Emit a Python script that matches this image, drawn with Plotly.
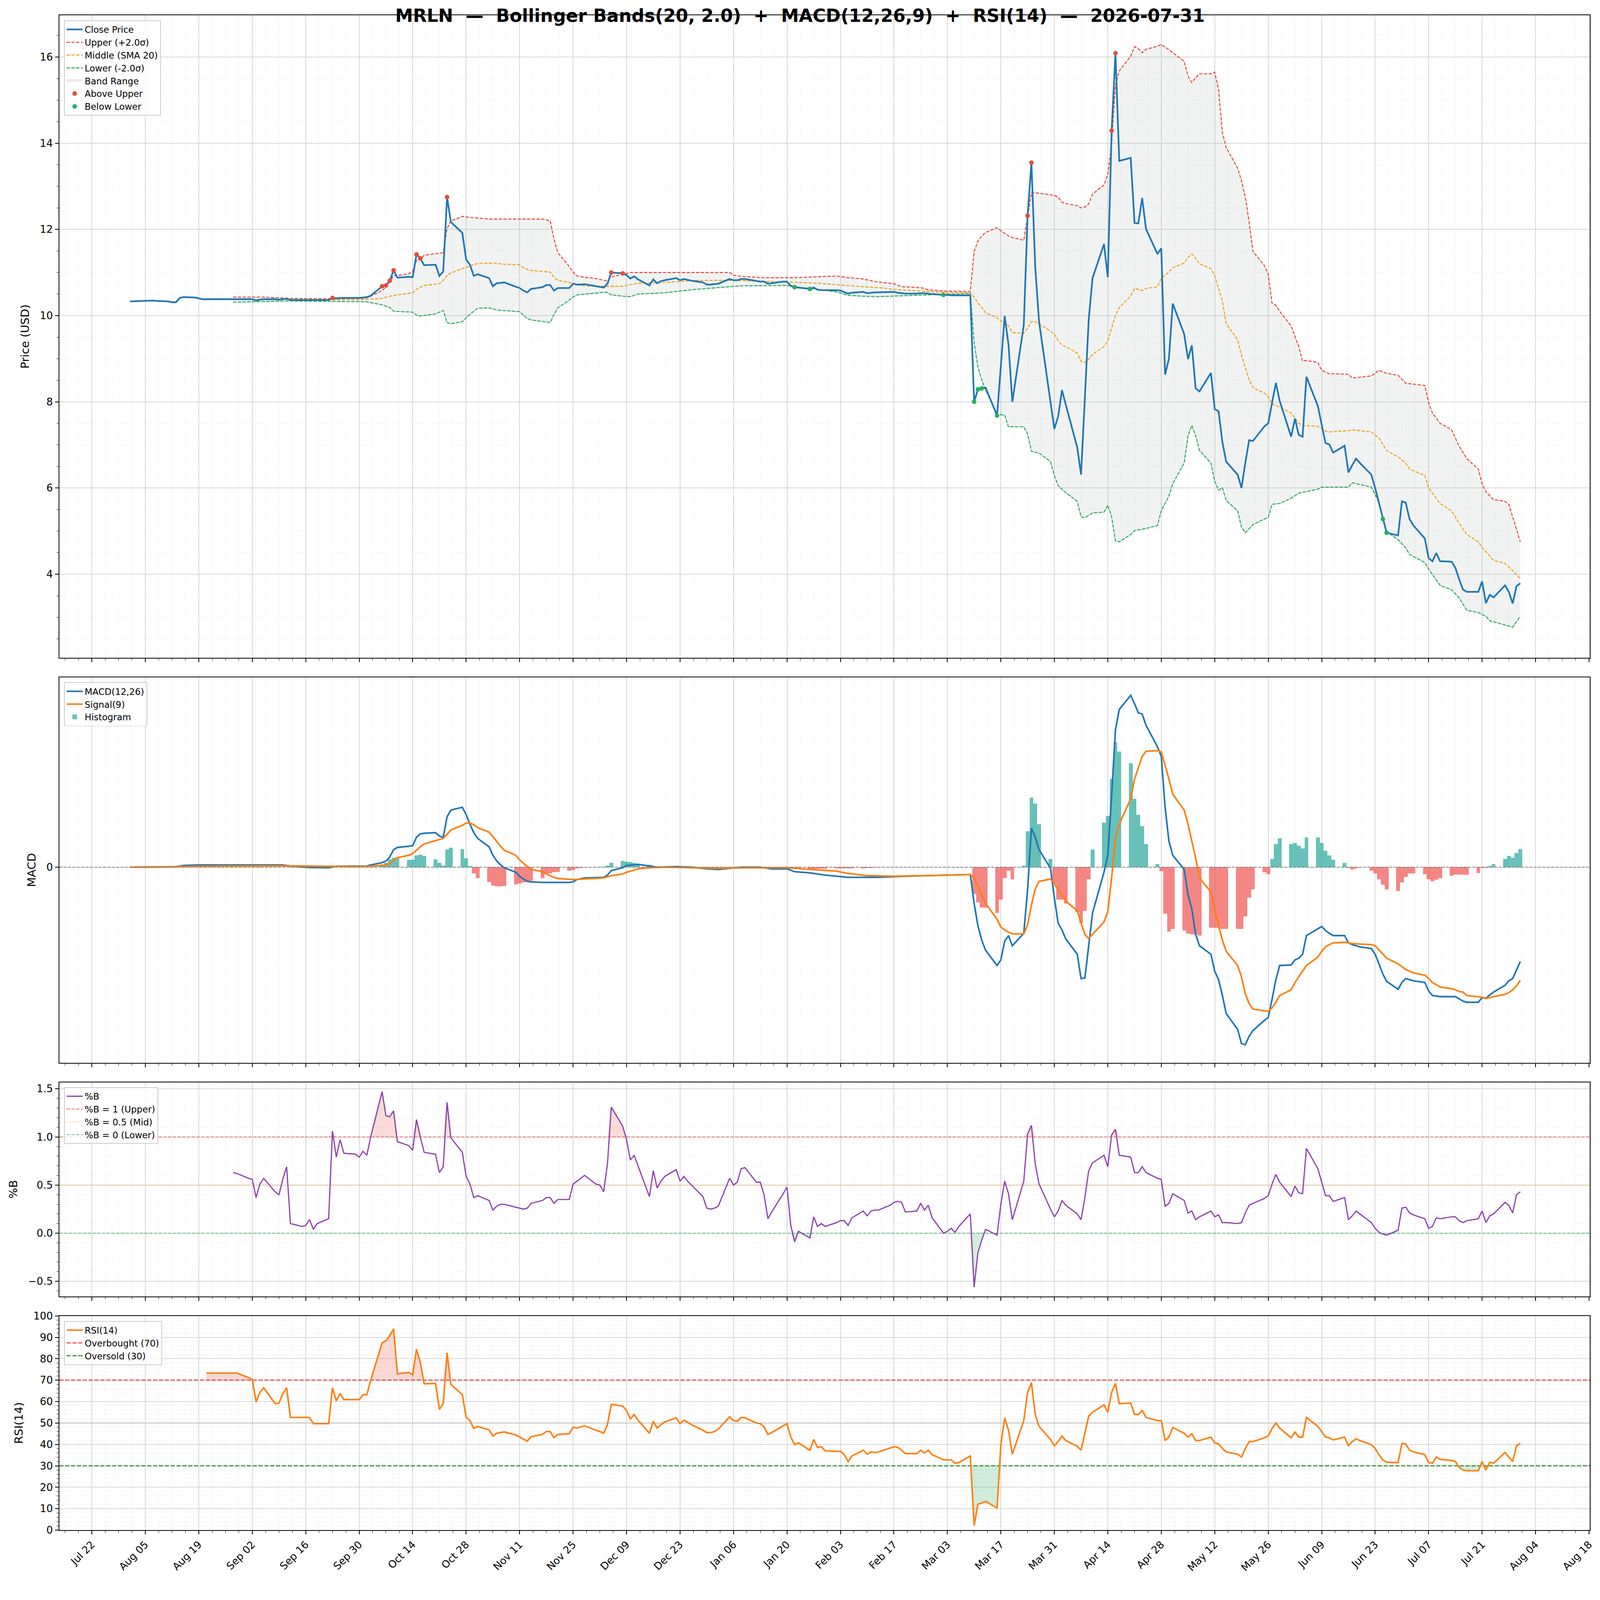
import numpy as np
import pandas as pd
import plotly.graph_objects as go
from plotly.subplots import make_subplots

FONT = "DejaVu Sans"
DAY = 86400000

# the page is shown in a 4096 css-px wide viewport, picture is 4378 px wide
S = 4096 / 4378
W, H = 4096, 4043


def px(v):
    return v * S


def dash(a, b):
    return f"{px(a):.1f}px,{px(b):.1f}px"


title = "MRLN  \u2014  Bollinger Bands(20, 2.0)  +  MACD(12,26,9)  +  RSI(14)  \u2014  2026-07-31"

# daily closes, business days from Fri 2025-08-01, one row per week (Mon..Fri)
close = [
    10.33,
    10.34, 10.35, 10.35, 10.35, 10.34,   # Aug 04
    10.33, 10.31, 10.31, 10.41, 10.43,   # Aug 11
    10.42, 10.40, 10.38, 10.38, 10.38,   # Aug 18
    10.38, 10.38, 10.38, 10.38, 10.38,   # Aug 25
    10.38, 10.38, 10.35, 10.37, 10.38,   # Sep 01
    10.38, 10.37, 10.38, 10.39, 10.36,   # Sep 08
    10.36, 10.36, 10.36, 10.36, 10.36,   # Sep 15
    10.36, 10.41, 10.40, 10.41, 10.41,   # Sep 22
    10.41, 10.41, 10.42, 10.43, 10.46,   # Sep 29
    10.68, 10.70, 10.81, 11.05, 10.88,   # Oct 06
    10.90, 10.89, 11.42, 11.33, 11.17,   # Oct 13
    11.18, 10.92, 11.02, 12.75, 12.17,   # Oct 20
    11.92, 11.30, 11.18, 10.92, 10.96,   # Oct 27
    10.87, 10.68, 10.75, 10.76, 10.77,   # Nov 03
    10.67, 10.64, 10.58, 10.54, 10.62,   # Nov 10
    10.66, 10.71, 10.71, 10.58, 10.64,   # Nov 17
    10.64, 10.74, 10.72, 10.72, 10.73,   # Nov 24
    10.68, 10.66, 10.65, 10.74, 11.00,   # Dec 01
    10.98, 10.94, 10.86, 10.91, 10.84,   # Dec 08
    10.70, 10.84, 10.75, 10.80, 10.82,   # Dec 15
    10.87, 10.82, 10.85, 10.83, 10.81,   # Dec 22
    10.77, 10.72, 10.72, 10.73, 10.74,   # Dec 29
    10.85, 10.82, 10.82, 10.85, 10.85,   # Jan 05
    10.80, 10.79, 10.79, 10.74, 10.75,   # Jan 12
    10.79, 10.79, 10.69, 10.66, 10.65,   # Jan 19
    10.62, 10.65, 10.60, 10.59, 10.59,   # Jan 26
    10.59, 10.58, 10.55, 10.51, 10.53,   # Feb 02
    10.55, 10.52, 10.53, 10.54, 10.54,   # Feb 09
    10.55, 10.55, 10.53, 10.52, 10.51,   # Feb 16
    10.51, 10.52, 10.52, 10.51, 10.50,   # Feb 23
    10.48, 10.48, 10.47, 10.47, 10.47,   # Mar 02
    10.47, 8.00, 8.29, 8.31, 8.33,       # Mar 09
    7.68, 8.85, 9.99, 9.33, 8.00,        # Mar 16
    9.78, 12.32, 13.55, 11.12, 9.86,     # Mar 23
    8.00, 7.37, 7.66, 8.27, 7.93,        # Mar 30
    6.94, 6.31, 8.02, 9.90, 10.87,       # Apr 06
    11.66, 10.89, 14.29, 16.09, 13.59,   # Apr 13
    13.66, 12.15, 12.14, 12.73, 12.01,   # Apr 20
    11.43, 11.56, 8.63, 9.00, 10.28,     # Apr 27
    9.57, 8.99, 9.31, 8.31, 8.24,        # May 04
    8.67, 7.83, 7.78, 7.06, 6.61,        # May 11
    6.31, 6.00, 6.58, 7.11, 7.09,        # May 18
    7.43, 7.50, 7.97, 8.44, 8.02,        # May 25
    7.19, 7.61, 7.23, 7.19, 8.58,        # Jun 01
    7.90, 7.45, 7.04, 7.01, 6.82,        # Jun 08
    6.98, 6.36, 6.53, 6.68, 6.58,        # Jun 15
    6.31, 6.00, 5.64, 5.28, 4.96,        # Jun 22
    4.90, 5.69, 5.66, 5.28, 5.13,        # Jun 29
    4.83, 4.37, 4.30, 4.49, 4.30,        # Jul 06
    4.29, 4.15, 3.88, 3.64, 3.59,        # Jul 13
    3.59, 3.83, 3.33, 3.52, 3.46,        # Jul 20
    3.74, 3.59, 3.32, 3.72, 3.79,        # Jul 27
]

upper_band = [
    ("2025-08-28", 10.43), ("2025-09-05", 10.43), ("2025-09-12", 10.40), ("2025-09-22", 10.39),
    ("2025-09-30", 10.40), ("2025-10-02", 10.41), ("2025-10-03", 10.45), ("2025-10-06", 10.58),
    ("2025-10-07", 10.66), ("2025-10-08", 10.78), ("2025-10-09", 10.93), ("2025-10-10", 10.93),
    ("2025-10-13", 10.97), ("2025-10-14", 11.03), ("2025-10-15", 11.28), ("2025-10-16", 11.30),
    ("2025-10-17", 11.40), ("2025-10-20", 11.44), ("2025-10-22", 11.46), ("2025-10-23", 12.02),
    ("2025-10-24", 12.20), ("2025-10-27", 12.30), ("2025-10-29", 12.28), ("2025-11-03", 12.24),
    ("2025-11-17", 12.24), ("2025-11-19", 12.20), ("2025-11-20", 11.78), ("2025-11-21", 11.46),
    ("2025-11-24", 11.14), ("2025-11-25", 11.01), ("2025-11-26", 10.92), ("2025-11-28", 10.89),
    ("2025-12-01", 10.86), ("2025-12-03", 10.82), ("2025-12-04", 10.81), ("2025-12-05", 10.90),
    ("2025-12-08", 10.95), ("2025-12-10", 11.00), ("2026-01-05", 11.00), ("2026-01-06", 10.94),
    ("2026-01-08", 10.91), ("2026-01-14", 10.88), ("2026-01-22", 10.88), ("2026-01-28", 10.90),
    ("2026-02-02", 10.92), ("2026-02-05", 10.88), ("2026-02-09", 10.85), ("2026-02-12", 10.79),
    ("2026-02-17", 10.74), ("2026-02-19", 10.67), ("2026-02-24", 10.65), ("2026-02-26", 10.60),
    ("2026-03-02", 10.57), ("2026-03-09", 10.56), ("2026-03-10", 11.49), ("2026-03-11", 11.73),
    ("2026-03-12", 11.85), ("2026-03-13", 11.93), ("2026-03-16", 12.04), ("2026-03-17", 11.97),
    ("2026-03-19", 11.85), ("2026-03-20", 11.81), ("2026-03-23", 11.75), ("2026-03-24", 12.30),
    ("2026-03-25", 12.86), ("2026-03-27", 12.84), ("2026-03-31", 12.79), ("2026-04-01", 12.75),
    ("2026-04-02", 12.63), ("2026-04-03", 12.60), ("2026-04-06", 12.55), ("2026-04-07", 12.50),
    ("2026-04-08", 12.52), ("2026-04-09", 12.59), ("2026-04-10", 12.82), ("2026-04-13", 13.03),
    ("2026-04-14", 13.28), ("2026-04-15", 14.00), ("2026-04-16", 15.35), ("2026-04-17", 15.68),
    ("2026-04-20", 16.02), ("2026-04-21", 16.24), ("2026-04-22", 16.19), ("2026-04-23", 16.10),
    ("2026-04-24", 16.18), ("2026-04-27", 16.25), ("2026-04-28", 16.29), ("2026-04-29", 16.23),
    ("2026-04-30", 16.17), ("2026-05-04", 15.90), ("2026-05-05", 15.56), ("2026-05-06", 15.41),
    ("2026-05-07", 15.52), ("2026-05-08", 15.61), ("2026-05-11", 15.61), ("2026-05-12", 15.65),
    ("2026-05-13", 15.25), ("2026-05-14", 14.24), ("2026-05-15", 13.90), ("2026-05-18", 13.42),
    ("2026-05-19", 13.13), ("2026-05-20", 12.75), ("2026-05-21", 12.17), ("2026-05-22", 11.49),
    ("2026-05-25", 11.16), ("2026-05-26", 10.96), ("2026-05-27", 10.29), ("2026-05-28", 10.24),
    ("2026-05-29", 10.10), ("2026-06-01", 9.76), ("2026-06-02", 9.52), ("2026-06-03", 9.28),
    ("2026-06-04", 8.94), ("2026-06-05", 8.96), ("2026-06-08", 8.91), ("2026-06-09", 8.73),
    ("2026-06-11", 8.65), ("2026-06-16", 8.64), ("2026-06-17", 8.55), ("2026-06-22", 8.60),
    ("2026-06-24", 8.73), ("2026-06-26", 8.66), ("2026-06-29", 8.62), ("2026-07-01", 8.43),
    ("2026-07-03", 8.41), ("2026-07-06", 8.38), ("2026-07-07", 7.98), ("2026-07-08", 7.74),
    ("2026-07-10", 7.50), ("2026-07-13", 7.35), ("2026-07-15", 6.97), ("2026-07-17", 6.68),
    ("2026-07-20", 6.44), ("2026-07-21", 6.10), ("2026-07-22", 5.91), ("2026-07-24", 5.73),
    ("2026-07-27", 5.69), ("2026-07-28", 5.62), ("2026-07-29", 5.33), ("2026-07-30", 5.04),
    ("2026-07-31", 4.75),
]

middle_band = [
    ("2025-08-28", 10.38), ("2025-09-30", 10.37), ("2025-10-03", 10.38), ("2025-10-06", 10.40),
    ("2025-10-08", 10.45), ("2025-10-10", 10.48), ("2025-10-14", 10.53), ("2025-10-15", 10.61),
    ("2025-10-17", 10.70), ("2025-10-21", 10.74), ("2025-10-22", 10.82), ("2025-10-23", 10.93),
    ("2025-10-24", 10.99), ("2025-10-27", 11.09), ("2025-10-31", 11.21), ("2025-11-03", 11.22),
    ("2025-11-05", 11.21), ("2025-11-07", 11.19), ("2025-11-11", 11.18), ("2025-11-12", 11.11),
    ("2025-11-13", 11.07), ("2025-11-14", 11.05), ("2025-11-19", 11.01), ("2025-11-20", 10.89),
    ("2025-11-21", 10.82), ("2025-11-24", 10.77), ("2025-11-25", 10.74), ("2025-11-28", 10.69),
    ("2025-12-03", 10.68), ("2025-12-08", 10.68), ("2025-12-10", 10.72), ("2025-12-12", 10.75),
    ("2025-12-19", 10.77), ("2025-12-26", 10.81), ("2026-01-02", 10.82), ("2026-01-09", 10.81),
    ("2026-01-14", 10.79), ("2026-01-23", 10.77), ("2026-01-28", 10.75), ("2026-02-03", 10.71),
    ("2026-02-09", 10.67), ("2026-02-13", 10.65), ("2026-02-18", 10.60), ("2026-02-24", 10.57),
    ("2026-03-02", 10.54), ("2026-03-09", 10.53), ("2026-03-10", 10.43), ("2026-03-11", 10.29),
    ("2026-03-12", 10.19), ("2026-03-13", 10.07), ("2026-03-16", 9.95), ("2026-03-17", 9.87),
    ("2026-03-18", 9.86), ("2026-03-19", 9.76), ("2026-03-20", 9.61), ("2026-03-23", 9.59),
    ("2026-03-24", 9.71), ("2026-03-25", 9.86), ("2026-03-26", 9.86), ("2026-03-27", 9.81),
    ("2026-03-30", 9.64), ("2026-03-31", 9.57), ("2026-04-01", 9.42), ("2026-04-02", 9.31),
    ("2026-04-03", 9.28), ("2026-04-06", 9.13), ("2026-04-07", 8.94), ("2026-04-08", 8.91),
    ("2026-04-09", 8.99), ("2026-04-10", 9.10), ("2026-04-13", 9.28), ("2026-04-14", 9.42),
    ("2026-04-15", 9.71), ("2026-04-16", 10.00), ("2026-04-17", 10.19), ("2026-04-20", 10.45),
    ("2026-04-21", 10.63), ("2026-04-22", 10.61), ("2026-04-23", 10.58), ("2026-04-24", 10.63),
    ("2026-04-27", 10.67), ("2026-04-28", 10.87), ("2026-04-29", 10.93), ("2026-04-30", 11.01),
    ("2026-05-01", 11.11), ("2026-05-04", 11.22), ("2026-05-05", 11.35), ("2026-05-06", 11.43),
    ("2026-05-07", 11.33), ("2026-05-08", 11.20), ("2026-05-11", 11.09), ("2026-05-12", 10.92),
    ("2026-05-13", 10.63), ("2026-05-14", 10.34), ("2026-05-15", 9.81), ("2026-05-18", 9.44),
    ("2026-05-19", 9.08), ("2026-05-20", 8.80), ("2026-05-21", 8.51), ("2026-05-22", 8.33),
    ("2026-05-25", 8.20), ("2026-05-26", 8.12), ("2026-05-27", 7.95), ("2026-05-29", 7.88),
    ("2026-06-01", 7.74), ("2026-06-03", 7.50), ("2026-06-04", 7.45), ("2026-06-08", 7.43),
    ("2026-06-10", 7.32), ("2026-06-11", 7.30), ("2026-06-16", 7.33), ("2026-06-17", 7.35),
    ("2026-06-22", 7.30), ("2026-06-24", 7.16), ("2026-06-26", 6.87), ("2026-06-29", 6.72),
    ("2026-07-01", 6.58), ("2026-07-02", 6.44), ("2026-07-06", 6.29), ("2026-07-07", 6.00),
    ("2026-07-10", 5.64), ("2026-07-13", 5.47), ("2026-07-15", 5.18), ("2026-07-17", 4.92),
    ("2026-07-20", 4.75), ("2026-07-21", 4.62), ("2026-07-24", 4.32), ("2026-07-27", 4.25),
    ("2026-07-29", 4.08), ("2026-07-31", 3.90),
]

lower_band = [
    ("2025-08-28", 10.31), ("2025-09-12", 10.34), ("2025-10-02", 10.32), ("2025-10-03", 10.30),
    ("2025-10-06", 10.25), ("2025-10-08", 10.19), ("2025-10-09", 10.10), ("2025-10-14", 10.08),
    ("2025-10-15", 10.01), ("2025-10-16", 9.99), ("2025-10-20", 10.04), ("2025-10-22", 10.12),
    ("2025-10-23", 9.84), ("2025-10-24", 9.81), ("2025-10-27", 9.86), ("2025-10-29", 10.03),
    ("2025-10-31", 10.17), ("2025-11-03", 10.18), ("2025-11-05", 10.13), ("2025-11-11", 10.09),
    ("2025-11-13", 9.93), ("2025-11-14", 9.90), ("2025-11-19", 9.84), ("2025-11-20", 10.02),
    ("2025-11-21", 10.18), ("2025-11-24", 10.36), ("2025-11-25", 10.43), ("2025-11-26", 10.48),
    ("2025-12-03", 10.54), ("2025-12-04", 10.54), ("2025-12-05", 10.48), ("2025-12-08", 10.45),
    ("2025-12-10", 10.44), ("2025-12-12", 10.50), ("2025-12-19", 10.53), ("2025-12-26", 10.60),
    ("2026-01-02", 10.65), ("2026-01-08", 10.69), ("2026-01-20", 10.70), ("2026-01-22", 10.67),
    ("2026-01-26", 10.63), ("2026-02-02", 10.55), ("2026-02-05", 10.47), ("2026-02-09", 10.45),
    ("2026-02-13", 10.44), ("2026-02-19", 10.46), ("2026-02-26", 10.48), ("2026-03-02", 10.49),
    ("2026-03-04", 10.50), ("2026-03-09", 10.51), ("2026-03-10", 9.37), ("2026-03-11", 8.80),
    ("2026-03-12", 8.51), ("2026-03-13", 8.27), ("2026-03-16", 7.71), ("2026-03-18", 7.69),
    ("2026-03-19", 7.42), ("2026-03-23", 7.42), ("2026-03-24", 7.25), ("2026-03-25", 6.85),
    ("2026-03-27", 6.81), ("2026-03-30", 6.61), ("2026-03-31", 6.29), ("2026-04-01", 6.05),
    ("2026-04-02", 5.97), ("2026-04-03", 5.89), ("2026-04-06", 5.69), ("2026-04-07", 5.33),
    ("2026-04-08", 5.31), ("2026-04-10", 5.42), ("2026-04-13", 5.44), ("2026-04-14", 5.60),
    ("2026-04-15", 5.33), ("2026-04-16", 4.77), ("2026-04-17", 4.75), ("2026-04-20", 4.92),
    ("2026-04-21", 5.01), ("2026-04-24", 5.06), ("2026-04-27", 5.13), ("2026-04-28", 5.47),
    ("2026-04-30", 5.81), ("2026-05-01", 6.10), ("2026-05-04", 6.58), ("2026-05-05", 7.21),
    ("2026-05-06", 7.45), ("2026-05-07", 7.21), ("2026-05-08", 6.87), ("2026-05-11", 6.58),
    ("2026-05-12", 6.15), ("2026-05-13", 5.95), ("2026-05-14", 6.00), ("2026-05-15", 5.71),
    ("2026-05-18", 5.47), ("2026-05-19", 5.09), ("2026-05-20", 4.96), ("2026-05-22", 5.15),
    ("2026-05-25", 5.28), ("2026-05-26", 5.31), ("2026-05-27", 5.62), ("2026-05-29", 5.64),
    ("2026-06-01", 5.76), ("2026-06-03", 5.88), ("2026-06-08", 5.97), ("2026-06-09", 6.02),
    ("2026-06-16", 6.02), ("2026-06-17", 6.12), ("2026-06-22", 6.02), ("2026-06-24", 5.66),
    ("2026-06-25", 5.32), ("2026-06-26", 4.99), ("2026-06-29", 4.80), ("2026-07-01", 4.61),
    ("2026-07-02", 4.46), ("2026-07-06", 4.27), ("2026-07-07", 4.12), ("2026-07-10", 3.74),
    ("2026-07-13", 3.64), ("2026-07-15", 3.45), ("2026-07-17", 3.16), ("2026-07-20", 3.11),
    ("2026-07-22", 3.02), ("2026-07-23", 2.92), ("2026-07-27", 2.82), ("2026-07-29", 2.77),
    ("2026-07-31", 3.02),
]

above_upper_days = ["2025-09-23", "2025-10-06", "2025-10-07", "2025-10-08", "2025-10-09",
                    "2025-10-15", "2025-10-16", "2025-10-23", "2025-12-05", "2025-12-08",
                    "2026-03-24", "2026-03-25", "2026-04-15", "2026-04-16"]
below_lower_days = ["2026-01-22", "2026-01-26", "2026-03-02", "2026-03-10", "2026-03-11",
                    "2026-03-12", "2026-03-16", "2026-06-25", "2026-06-26"]

macd_line = [
    ("2025-08-01", 0.0), ("2025-08-13", 0.003), ("2025-08-15", 0.015), ("2025-08-19", 0.02),
    ("2025-09-10", 0.02), ("2025-09-12", 0.01), ("2025-09-17", -0.003), ("2025-09-22", -0.005),
    ("2025-09-24", 0.008), ("2025-10-02", 0.01), ("2025-10-03", 0.02), ("2025-10-06", 0.04),
    ("2025-10-07", 0.055), ("2025-10-08", 0.09), ("2025-10-09", 0.155), ("2025-10-10", 0.175),
    ("2025-10-13", 0.185), ("2025-10-14", 0.19), ("2025-10-15", 0.265), ("2025-10-16", 0.295),
    ("2025-10-17", 0.30), ("2025-10-20", 0.305), ("2025-10-21", 0.275), ("2025-10-22", 0.265),
    ("2025-10-23", 0.445), ("2025-10-24", 0.505), ("2025-10-27", 0.53), ("2025-10-28", 0.465),
    ("2025-10-29", 0.38), ("2025-10-30", 0.305), ("2025-10-31", 0.255), ("2025-11-03", 0.18),
    ("2025-11-04", 0.105), ("2025-11-05", 0.055), ("2025-11-06", 0.02), ("2025-11-07", -0.005),
    ("2025-11-10", -0.045), ("2025-11-11", -0.08), ("2025-11-12", -0.105), ("2025-11-13", -0.125),
    ("2025-11-14", -0.13), ("2025-11-17", -0.135), ("2025-11-24", -0.135), ("2025-11-25", -0.13),
    ("2025-11-26", -0.11), ("2025-11-28", -0.095), ("2025-12-03", -0.09), ("2025-12-04", -0.07),
    ("2025-12-05", -0.03), ("2025-12-08", -0.005), ("2025-12-09", 0.015), ("2025-12-12", 0.025),
    ("2025-12-15", 0.01), ("2025-12-17", 0.0), ("2025-12-22", 0.005), ("2025-12-26", 0.0),
    ("2025-12-30", -0.015), ("2026-01-02", -0.02), ("2026-01-05", -0.01), ("2026-01-08", 0.0),
    ("2026-01-13", 0.0), ("2026-01-16", -0.015), ("2026-01-20", -0.015), ("2026-01-22", -0.04),
    ("2026-01-26", -0.05), ("2026-01-30", -0.07), ("2026-02-05", -0.09), ("2026-02-13", -0.09),
    ("2026-02-20", -0.08), ("2026-02-27", -0.075), ("2026-03-09", -0.065), ("2026-03-10", -0.32),
    ("2026-03-11", -0.52), ("2026-03-12", -0.645), ("2026-03-13", -0.735), ("2026-03-16", -0.87),
    ("2026-03-17", -0.82), ("2026-03-18", -0.655), ("2026-03-19", -0.605), ("2026-03-20", -0.695),
    ("2026-03-23", -0.585), ("2026-03-24", -0.20), ("2026-03-25", 0.345), ("2026-03-26", 0.265),
    ("2026-03-27", 0.155), ("2026-03-30", -0.01), ("2026-03-31", -0.27), ("2026-04-01", -0.495),
    ("2026-04-02", -0.555), ("2026-04-03", -0.635), ("2026-04-06", -0.77), ("2026-04-07", -0.985),
    ("2026-04-08", -0.98), ("2026-04-09", -0.695), ("2026-04-10", -0.405), ("2026-04-13", -0.045),
    ("2026-04-14", 0.105), ("2026-04-15", 0.63), ("2026-04-16", 1.215), ("2026-04-17", 1.395),
    ("2026-04-20", 1.52), ("2026-04-21", 1.445), ("2026-04-22", 1.365), ("2026-04-23", 1.355),
    ("2026-04-24", 1.255), ("2026-04-27", 1.065), ("2026-04-28", 0.98), ("2026-04-29", 0.53),
    ("2026-04-30", 0.23), ("2026-05-01", 0.105), ("2026-05-04", -0.02), ("2026-05-05", -0.245),
    ("2026-05-06", -0.37), ("2026-05-07", -0.595), ("2026-05-08", -0.695), ("2026-05-11", -0.77),
    ("2026-05-12", -0.92), ("2026-05-13", -0.995), ("2026-05-14", -1.135), ("2026-05-15", -1.295),
    ("2026-05-18", -1.435), ("2026-05-19", -1.56), ("2026-05-20", -1.57), ("2026-05-21", -1.495),
    ("2026-05-22", -1.445), ("2026-05-25", -1.355), ("2026-05-26", -1.33), ("2026-05-27", -1.17),
    ("2026-05-28", -0.995), ("2026-05-29", -0.87), ("2026-06-01", -0.865), ("2026-06-02", -0.82),
    ("2026-06-03", -0.805), ("2026-06-04", -0.77), ("2026-06-05", -0.605), ("2026-06-08", -0.545),
    ("2026-06-09", -0.525), ("2026-06-10", -0.56), ("2026-06-11", -0.585), ("2026-06-12", -0.605),
    ("2026-06-15", -0.605), ("2026-06-16", -0.67), ("2026-06-17", -0.685), ("2026-06-18", -0.695),
    ("2026-06-19", -0.705), ("2026-06-22", -0.72), ("2026-06-23", -0.77), ("2026-06-24", -0.855),
    ("2026-06-25", -0.945), ("2026-06-26", -1.01), ("2026-06-29", -1.08), ("2026-06-30", -1.02),
    ("2026-07-01", -0.985), ("2026-07-02", -0.995), ("2026-07-03", -1.005), ("2026-07-06", -1.02),
    ("2026-07-07", -1.095), ("2026-07-08", -1.135), ("2026-07-10", -1.145), ("2026-07-14", -1.145),
    ("2026-07-15", -1.165), ("2026-07-16", -1.185), ("2026-07-17", -1.195), ("2026-07-20", -1.195),
    ("2026-07-21", -1.155), ("2026-07-22", -1.16), ("2026-07-23", -1.13), ("2026-07-24", -1.105),
    ("2026-07-27", -1.045), ("2026-07-28", -1.005), ("2026-07-29", -0.985), ("2026-07-30", -0.91),
    ("2026-07-31", -0.835),
]

signal_line = [
    ("2025-08-01", 0.0), ("2025-08-20", 0.008), ("2025-09-10", 0.012), ("2025-09-30", 0.005),
    ("2025-10-03", 0.008), ("2025-10-06", 0.015), ("2025-10-07", 0.02), ("2025-10-08", 0.03),
    ("2025-10-09", 0.06), ("2025-10-10", 0.085), ("2025-10-13", 0.105), ("2025-10-14", 0.12),
    ("2025-10-15", 0.15), ("2025-10-16", 0.18), ("2025-10-17", 0.205), ("2025-10-20", 0.235),
    ("2025-10-21", 0.245), ("2025-10-22", 0.255), ("2025-10-23", 0.29), ("2025-10-24", 0.33),
    ("2025-10-27", 0.37), ("2025-10-28", 0.39), ("2025-10-29", 0.39), ("2025-10-30", 0.375),
    ("2025-10-31", 0.35), ("2025-11-03", 0.31), ("2025-11-04", 0.27), ("2025-11-05", 0.225),
    ("2025-11-06", 0.185), ("2025-11-07", 0.15), ("2025-11-10", 0.105), ("2025-11-11", 0.065),
    ("2025-11-12", 0.035), ("2025-11-13", 0.005), ("2025-11-14", -0.02), ("2025-11-17", -0.04),
    ("2025-11-18", -0.06), ("2025-11-19", -0.075), ("2025-11-20", -0.09), ("2025-11-21", -0.10),
    ("2025-11-25", -0.11), ("2025-12-03", -0.095), ("2025-12-05", -0.075), ("2025-12-08", -0.06),
    ("2025-12-09", -0.045), ("2025-12-12", -0.015), ("2025-12-15", -0.005), ("2025-12-19", 0.0),
    ("2026-01-02", -0.01), ("2026-01-09", -0.005), ("2026-01-20", -0.005), ("2026-01-22", -0.01),
    ("2026-01-27", -0.02), ("2026-02-02", -0.035), ("2026-02-05", -0.055), ("2026-02-10", -0.075),
    ("2026-02-17", -0.08), ("2026-02-26", -0.075), ("2026-03-09", -0.065), ("2026-03-10", -0.095),
    ("2026-03-11", -0.17), ("2026-03-12", -0.245), ("2026-03-13", -0.32), ("2026-03-16", -0.46),
    ("2026-03-17", -0.53), ("2026-03-18", -0.555), ("2026-03-19", -0.575), ("2026-03-20", -0.59),
    ("2026-03-23", -0.59), ("2026-03-24", -0.51), ("2026-03-25", -0.335), ("2026-03-26", -0.195),
    ("2026-03-27", -0.125), ("2026-03-30", -0.105), ("2026-03-31", -0.145), ("2026-04-01", -0.20),
    ("2026-04-02", -0.245), ("2026-04-03", -0.30), ("2026-04-06", -0.385), ("2026-04-07", -0.495),
    ("2026-04-08", -0.595), ("2026-04-09", -0.63), ("2026-04-10", -0.595), ("2026-04-13", -0.485),
    ("2026-04-14", -0.395), ("2026-04-15", -0.095), ("2026-04-16", 0.255), ("2026-04-17", 0.38),
    ("2026-04-20", 0.605), ("2026-04-21", 0.78), ("2026-04-22", 0.88), ("2026-04-23", 0.98),
    ("2026-04-24", 1.025), ("2026-04-27", 1.03), ("2026-04-28", 1.02), ("2026-04-29", 0.905),
    ("2026-04-30", 0.78), ("2026-05-01", 0.645), ("2026-05-04", 0.505), ("2026-05-05", 0.38),
    ("2026-05-06", 0.23), ("2026-05-07", 0.08), ("2026-05-08", -0.095), ("2026-05-11", -0.22),
    ("2026-05-12", -0.37), ("2026-05-13", -0.52), ("2026-05-14", -0.645), ("2026-05-15", -0.745),
    ("2026-05-18", -0.87), ("2026-05-19", -0.97), ("2026-05-20", -1.12), ("2026-05-21", -1.205),
    ("2026-05-22", -1.255), ("2026-05-25", -1.27), ("2026-05-26", -1.275), ("2026-05-27", -1.245),
    ("2026-05-28", -1.195), ("2026-05-29", -1.135), ("2026-06-01", -1.085), ("2026-06-02", -1.02),
    ("2026-06-03", -0.97), ("2026-06-04", -0.92), ("2026-06-05", -0.87), ("2026-06-08", -0.795),
    ("2026-06-09", -0.745), ("2026-06-10", -0.705), ("2026-06-11", -0.685), ("2026-06-12", -0.67),
    ("2026-06-15", -0.665), ("2026-06-16", -0.67), ("2026-06-17", -0.675), ("2026-06-19", -0.68),
    ("2026-06-22", -0.685), ("2026-06-23", -0.695), ("2026-06-24", -0.73), ("2026-06-25", -0.77),
    ("2026-06-26", -0.805), ("2026-06-29", -0.855), ("2026-06-30", -0.88), ("2026-07-01", -0.905),
    ("2026-07-02", -0.92), ("2026-07-03", -0.935), ("2026-07-06", -0.955), ("2026-07-07", -0.985),
    ("2026-07-08", -1.02), ("2026-07-09", -1.04), ("2026-07-10", -1.06), ("2026-07-13", -1.075),
    ("2026-07-14", -1.085), ("2026-07-15", -1.10), ("2026-07-16", -1.105), ("2026-07-17", -1.135),
    ("2026-07-20", -1.145), ("2026-07-21", -1.15), ("2026-07-22", -1.16), ("2026-07-23", -1.155),
    ("2026-07-24", -1.145), ("2026-07-27", -1.125), ("2026-07-28", -1.11), ("2026-07-29", -1.085),
    ("2026-07-30", -1.05), ("2026-07-31", -1.0),
]

# MACD histogram, same business days as close
hist = [
    0.0,
    0.0, 0.0, 0.0, 0.0, 0.0,                   # Aug 04
    0.0, 0.0, 0.0, 0.008, 0.01,                # Aug 11
    0.01, 0.008, 0.006, 0.005, 0.004,          # Aug 18
    0.003, 0.002, 0.002, 0.001, 0.001,         # Aug 25
    0.0, 0.0, -0.002, -0.001, 0.0,             # Sep 01
    0.0, 0.0, 0.0, 0.001, -0.004,              # Sep 08
    -0.005, -0.005, -0.005, -0.005, -0.004,    # Sep 15
    -0.004, 0.004, 0.004, 0.005, 0.004,        # Sep 22
    0.004, 0.004, 0.004, 0.004, 0.01,          # Sep 29
    0.025, 0.04, 0.07, 0.085, 0.085,           # Oct 06
    0.065, 0.065, 0.105, 0.11, 0.10,           # Oct 13
    0.07, 0.04, 0.015, 0.155, 0.175,           # Oct 20
    0.16, 0.08, 0.01, -0.055, -0.095,          # Oct 27
    -0.13, -0.16, -0.17, -0.17, -0.165,        # Nov 03
    -0.15, -0.145, -0.135, -0.13, -0.12,       # Nov 10
    -0.095, -0.06, -0.055, -0.045, -0.04,      # Nov 17
    -0.03, -0.025, -0.01, -0.005, 0.0,         # Nov 24
    0.005, 0.005, 0.005, 0.015, 0.04,          # Dec 01
    0.055, 0.05, 0.045, 0.04, 0.03,            # Dec 08
    0.02, 0.012, 0.006, 0.004, 0.003,          # Dec 15
    0.004, 0.003, 0.003, 0.002, 0.001,         # Dec 22
    -0.002, -0.004, -0.005, -0.005, -0.004,    # Dec 29
    0.0, 0.002, 0.003, 0.004, 0.004,           # Jan 05
    0.003, 0.002, 0.0, -0.002, -0.003,         # Jan 12
    -0.003, -0.003, -0.006, -0.01, -0.012,     # Jan 19
    -0.014, -0.012, -0.012, -0.012, -0.012,    # Jan 26
    -0.01, -0.01, -0.01, -0.01, -0.01,         # Feb 02
    -0.008, -0.006, -0.005, -0.004, -0.003,    # Feb 09
    -0.002, 0.0, 0.0, 0.0, 0.0,                # Feb 16
    0.0, 0.001, 0.001, 0.002, 0.002,           # Feb 23
    0.002, 0.002, 0.002, 0.002, 0.002,         # Mar 02
    0.002, -0.235, -0.31, -0.355, -0.36,       # Mar 09
    -0.405, -0.285, -0.095, -0.03, -0.105,     # Mar 16
    0.015, 0.32, 0.615, 0.565, 0.38,           # Mar 23
    0.075, -0.145, -0.285, -0.285, -0.32,      # Mar 30
    -0.395, -0.495, -0.385, -0.105, 0.155,     # Apr 06
    0.395, 0.455, 0.78, 1.105, 1.025,          # Apr 13
    0.92, 0.605, 0.465, 0.365, 0.205,          # Apr 20
    0.03, -0.035, -0.41, -0.57, -0.545,        # Apr 27
    -0.56, -0.585, -0.595, -0.595, -0.605,     # May 04
    -0.535, -0.535, -0.535, -0.545, -0.545,    # May 11
    -0.545, -0.545, -0.435, -0.27, -0.195,     # May 18
    -0.045, -0.06, 0.075, 0.205, 0.255,        # May 25
    0.205, 0.215, 0.19, 0.165, 0.265,          # Jun 01
    0.265, 0.215, 0.145, 0.105, 0.065,         # Jun 08
    0.04, -0.005, -0.02, -0.01, 0.0,           # Jun 15
    -0.03, -0.055, -0.105, -0.155, -0.195,     # Jun 22
    -0.21, -0.135, -0.085, -0.055, -0.055,     # Jun 29
    -0.06, -0.105, -0.125, -0.11, -0.095,      # Jul 06
    -0.075, -0.065, -0.065, -0.065, -0.07,     # Jul 13
    -0.05, -0.005, -0.005, 0.01, 0.03,         # Jul 20
    0.075, 0.10, 0.085, 0.125, 0.16,           # Jul 27
]

# %B from Thu 2025-08-28 (first full 20-day window)
pct_b = [
    0.63, 0.62,
    0.57, 0.56, 0.37, 0.51, 0.57,    # Sep 01
    0.43, 0.40, 0.56, 0.69, 0.10,    # Sep 08
    0.07, 0.08, 0.14, 0.04, 0.10,    # Sep 15
    0.15, 1.06, 0.79, 0.97, 0.83,    # Sep 22
    0.82, 0.79, 0.85, 0.81, 1.00,    # Sep 29
    1.47, 1.22, 1.21, 1.27, 0.95,    # Oct 06
    0.91, 0.86, 1.18, 1.00, 0.84,    # Oct 13
    0.82, 0.63, 0.69, 1.36, 0.99,    # Oct 20
    0.84, 0.59, 0.51, 0.37, 0.39,    # Oct 27
    0.34, 0.24, 0.28, 0.30, 0.30,    # Nov 03
    0.27, 0.26, 0.25, 0.26, 0.31,    # Nov 10
    0.34, 0.37, 0.37, 0.31, 0.35,    # Nov 17
    0.35, 0.51, 0.54, 0.57, 0.60,    # Nov 24
    0.51, 0.50, 0.43, 0.72, 1.31,    # Dec 01
    1.11, 0.97, 0.76, 0.81, 0.70,    # Dec 08
    0.38, 0.65, 0.47, 0.54, 0.59,    # Dec 15
    0.66, 0.54, 0.59, 0.54, 0.50,    # Dec 22
    0.38, 0.26, 0.25, 0.26, 0.28,    # Dec 29
    0.57, 0.50, 0.53, 0.67, 0.68,    # Jan 05
    0.53, 0.53, 0.40, 0.15, 0.22,    # Jan 12
    0.41, 0.48, 0.08, -0.09, 0.02,   # Jan 19
    -0.05, 0.17, 0.07, 0.10, 0.07,   # Jan 26
    0.11, 0.13, 0.13, 0.08, 0.16,    # Feb 02
    0.23, 0.18, 0.23, 0.24, 0.24,    # Feb 09
    0.29, 0.32, 0.33, 0.32, 0.22,    # Feb 16
    0.23, 0.31, 0.24, 0.29, 0.16,    # Feb 23
    0.00, 0.02, 0.05, 0.01, 0.07,    # Mar 02
    0.20, -0.56, -0.20, -0.07, 0.04, # Mar 09
    -0.02, 0.30, 0.54, 0.41, 0.14,   # Mar 16
    0.54, 1.03, 1.12, 0.72, 0.51,    # Mar 23
    0.25, 0.17, 0.23, 0.34, 0.29,    # Mar 30
    0.20, 0.14, 0.37, 0.65, 0.73,    # Apr 06
    0.81, 0.69, 1.02, 1.08, 0.81,    # Apr 13
    0.79, 0.63, 0.63, 0.69, 0.63,    # Apr 20
    0.57, 0.56, 0.28, 0.31, 0.41,    # Apr 27
    0.34, 0.21, 0.23, 0.14, 0.17,    # May 04
    0.23, 0.17, 0.19, 0.11, 0.11,    # May 11
    0.10, 0.11, 0.21, 0.29, 0.31,    # May 18
    0.36, 0.39, 0.51, 0.61, 0.53,    # May 25
    0.38, 0.49, 0.42, 0.41, 0.88,    # Jun 01
    0.67, 0.53, 0.39, 0.39, 0.33,    # Jun 08
    0.37, 0.14, 0.18, 0.23, 0.20,    # Jun 15
    0.11, 0.05, 0.01, -0.01, -0.02,  # Jun 22
    0.03, 0.26, 0.27, 0.21, 0.19,    # Jun 29
    0.15, 0.05, 0.07, 0.16, 0.15,    # Jul 06
    0.17, 0.17, 0.13, 0.11, 0.13,    # Jul 13
    0.15, 0.23, 0.11, 0.18, 0.20,    # Jul 20
    0.32, 0.29, 0.21, 0.40, 0.43,    # Jul 27
]

# RSI(14) from Thu 2025-08-21
rsi = [
    73.3, 73.3,
    73.3, 73.3, 73.3, 73.3, 73.3,    # Aug 25
    71.2, 70.4, 59.8, 64.3, 66.4,    # Sep 01
    59.0, 59.3, 63.8, 66.4, 52.6,    # Sep 08
    52.6, 52.6, 52.6, 49.7, 49.7,    # Sep 15
    49.7, 66.4, 60.3, 63.8, 60.9,    # Sep 22
    60.9, 60.9, 63.2, 63.2, 69.9,    # Sep 29
    87.4, 88.4, 90.8, 94.0, 73.0,    # Oct 06
    73.6, 72.5, 84.4, 78.3, 68.3,    # Oct 13
    68.5, 56.4, 59.0, 82.8, 68.0,    # Oct 20
    63.2, 52.6, 51.1, 47.4, 48.4,    # Oct 27
    46.8, 43.9, 45.2, 45.5, 45.8,    # Nov 03
    44.4, 43.4, 42.3, 41.5, 43.6,    # Nov 10
    44.7, 46.0, 46.0, 43.1, 44.7,    # Nov 17
    45.0, 48.1, 47.6, 48.1, 48.7,    # Nov 24
    46.6, 46.0, 45.2, 49.2, 58.7,    # Dec 01
    57.9, 55.8, 51.9, 54.0, 51.3,    # Dec 08
    45.2, 50.8, 47.6, 49.2, 50.5,    # Dec 15
    52.4, 49.7, 51.3, 50.3, 49.2,    # Dec 22
    46.6, 45.5, 45.5, 46.0, 47.1,    # Dec 29
    52.9, 51.1, 50.8, 52.6, 52.4,    # Jan 05
    50.0, 49.7, 48.1, 44.7, 45.5,    # Jan 12
    48.7, 49.7, 43.4, 39.9, 40.7,    # Jan 19
    37.3, 42.3, 38.6, 38.9, 37.0,    # Jan 26
    36.8, 36.8, 35.2, 32.0, 34.6,    # Feb 02
    37.3, 35.4, 36.5, 36.2, 36.5,    # Feb 09
    38.3, 38.9, 38.6, 37.3, 35.7,    # Feb 16
    35.7, 37.3, 36.0, 37.3, 35.2,    # Feb 23
    32.8, 32.8, 32.8, 31.2, 31.5,    # Mar 02
    34.6, 2.1, 12.1, 12.6, 13.4,     # Mar 09
    10.3, 39.9, 52.4, 46.6, 35.4,    # Mar 16
    51.1, 64.3, 68.8, 54.0, 48.4,    # Mar 23
    42.3, 39.4, 41.3, 43.9, 41.8,    # Mar 30
    39.1, 37.3, 45.2, 53.2, 55.0,    # Apr 06
    58.5, 55.0, 64.3, 68.5, 59.0,    # Apr 13
    59.3, 54.0, 54.0, 55.8, 52.6,    # Apr 20
    51.1, 51.1, 41.8, 43.4, 47.9,    # Apr 27
    45.2, 43.4, 45.0, 41.8, 41.8,    # May 04
    43.4, 40.7, 40.2, 38.1, 36.5,    # May 11
    35.4, 34.1, 38.1, 41.3, 41.3,    # May 18
    43.1, 43.9, 47.4, 50.0, 47.6,    # May 25
    43.1, 45.8, 43.4, 43.4, 52.6,    # Jun 01
    48.4, 46.0, 43.4, 43.1, 42.1,    # Jun 08
    43.4, 39.4, 41.3, 42.6, 41.8,    # Jun 15
    39.9, 38.1, 35.2, 32.8, 31.7,    # Jun 22
    31.5, 40.5, 40.2, 37.3, 36.5,    # Jun 29
    35.2, 31.5, 31.2, 34.1, 33.0,    # Jul 06
    32.5, 32.0, 29.3, 28.0, 27.7,    # Jul 13
    27.7, 32.0, 28.0, 31.7, 31.2,    # Jul 20
    36.2, 34.1, 32.0, 39.4, 40.5,    # Jul 27
]

pb_upper, pb_mid, pb_lower = 1.0, 0.5, 0.0
rsi_ob, rsi_mid, rsi_os = 70, 50, 30

X_LO, X_HI = "2025-07-13 12:00", "2026-08-18 05:00"


def unzip(pts):
    return pd.to_datetime([d for d, _ in pts]), [v for _, v in pts]


dates = pd.bdate_range("2025-08-01", periods=len(close))
close_s = pd.Series(close, index=dates)
x_pb = dates[-len(pct_b):]
x_rsi = dates[-len(rsi):]
up_x, up_y = unzip(upper_band)
mid_x, mid_y = unzip(middle_band)
lo_x, lo_y = unzip(lower_band)
macd_x, macd_y = unzip(macd_line)
sig_x, sig_y = unzip(signal_line)
au = pd.to_datetime(above_upper_days)
bl = pd.to_datetime(below_lower_days)

fig = make_subplots(rows=4, cols=1, shared_xaxes=True,
                    row_heights=[3, 1.8, 1, 1], vertical_spacing=0.01286)

BAND_DASH = dash(9, 4)

# ---- price + bands
fig.add_trace(go.Scatter(x=up_x, y=up_y, mode="lines", line=dict(width=0),
                         showlegend=False, hoverinfo="skip"), row=1, col=1)
fig.add_trace(go.Scatter(x=lo_x, y=lo_y, mode="lines",
                         line=dict(width=px(2), color="rgba(149,165,166,0.4)"),
                         fill="tonexty", fillcolor="rgba(149,165,166,0.13)",
                         name="Band Range", legend="legend", legendgroup="g5", legendrank=5), row=1, col=1)
fig.add_trace(go.Scatter(x=up_x, y=up_y, mode="lines", name="Upper (+2.0\u03c3)",
                         line=dict(color="#e74c3c", width=px(2.8), dash=BAND_DASH),
                         legend="legend", legendgroup="g2", legendrank=2), row=1, col=1)
fig.add_trace(go.Scatter(x=mid_x, y=mid_y, mode="lines", name="Middle (SMA 20)",
                         line=dict(color="#f39c12", width=px(2.8), dash=BAND_DASH),
                         legend="legend", legendgroup="g3", legendrank=3), row=1, col=1)
fig.add_trace(go.Scatter(x=lo_x, y=lo_y, mode="lines", name="Lower (-2.0\u03c3)",
                         line=dict(color="#27ae60", width=px(2.8), dash=BAND_DASH),
                         legend="legend", legendgroup="g4", legendrank=4), row=1, col=1)
fig.add_trace(go.Scatter(x=dates, y=close, mode="lines", name="Close Price",
                         line=dict(color="#1f77b4", width=px(4.6)),
                         legend="legend", legendgroup="g1", legendrank=1), row=1, col=1)
fig.add_trace(go.Scatter(x=au, y=close_s.loc[au], mode="markers", name="Above Upper",
                         marker=dict(color="#e74c3c", size=px(12.5)),
                         legend="legend", legendgroup="g6", legendrank=6), row=1, col=1)
fig.add_trace(go.Scatter(x=bl, y=close_s.loc[bl], mode="markers", name="Below Lower",
                         marker=dict(color="#27ae60", size=px(12.5)),
                         legend="legend", legendgroup="g7", legendrank=7), row=1, col=1)

# ---- MACD
hist_pos = [h if h >= 0 else None for h in hist]
hist_neg = [h if h < 0 else None for h in hist]
fig.add_trace(go.Bar(x=dates, y=hist_pos, width=DAY, name="Histogram",
                     marker=dict(color="rgba(38,166,154,0.7)", line=dict(width=0)),
                     legend="legend2", legendgroup="m3", legendrank=3), row=2, col=1)
fig.add_trace(go.Bar(x=dates, y=hist_neg, width=DAY, showlegend=False,
                     marker=dict(color="rgba(239,83,80,0.7)", line=dict(width=0))), row=2, col=1)
fig.add_trace(go.Scatter(x=macd_x, y=macd_y, mode="lines", name="MACD(12,26)",
                         line=dict(color="#1f77b4", width=px(4.4)),
                         legend="legend2", legendgroup="m1", legendrank=1), row=2, col=1)
fig.add_trace(go.Scatter(x=sig_x, y=sig_y, mode="lines", name="Signal(9)",
                         line=dict(color="#ff7f0e", width=px(4.4)),
                         legend="legend2", legendgroup="m2", legendrank=2), row=2, col=1)

# ---- %B
pb = np.array(pct_b)
fig.add_trace(go.Scatter(x=x_pb, y=[pb_upper] * len(pb), mode="lines", line=dict(width=0),
                         showlegend=False, hoverinfo="skip"), row=3, col=1)
fig.add_trace(go.Scatter(x=x_pb, y=np.maximum(pb, pb_upper), mode="lines", line=dict(width=0),
                         fill="tonexty", fillcolor="rgba(231,76,60,0.2)",
                         showlegend=False, hoverinfo="skip"), row=3, col=1)
fig.add_trace(go.Scatter(x=x_pb, y=[pb_lower] * len(pb), mode="lines", line=dict(width=0),
                         showlegend=False, hoverinfo="skip"), row=3, col=1)
fig.add_trace(go.Scatter(x=x_pb, y=np.minimum(pb, pb_lower), mode="lines", line=dict(width=0),
                         fill="tonexty", fillcolor="rgba(39,174,96,0.2)",
                         showlegend=False, hoverinfo="skip"), row=3, col=1)
for lvl, nm, col, dsh, rk in [
    (pb_upper, "%B = 1 (Upper)", "rgba(231,76,60,0.75)", dash(9, 4), 2),
    (pb_mid, "%B = 0.5 (Mid)", "rgba(243,156,18,0.75)", dash(2, 3), 3),
    (pb_lower, "%B = 0 (Lower)", "rgba(39,174,96,0.75)", dash(9, 4), 4),
]:
    fig.add_trace(go.Scatter(x=[X_LO, X_HI], y=[lvl, lvl], mode="lines", name=nm,
                             line=dict(color=col, width=px(2.2), dash=dsh),
                             legend="legend3", legendgroup=f"b{rk}", legendrank=rk,
                             hoverinfo="skip"), row=3, col=1)
fig.add_trace(go.Scatter(x=x_pb, y=pct_b, mode="lines", name="%B",
                         line=dict(color="#8e44ad", width=px(3.3)),
                         legend="legend3", legendgroup="b1", legendrank=1), row=3, col=1)

# ---- RSI
rs = np.array(rsi)
fig.add_trace(go.Scatter(x=x_rsi, y=[rsi_ob] * len(rs), mode="lines", line=dict(width=0),
                         showlegend=False, hoverinfo="skip"), row=4, col=1)
fig.add_trace(go.Scatter(x=x_rsi, y=np.maximum(rs, rsi_ob), mode="lines", line=dict(width=0),
                         fill="tonexty", fillcolor="rgba(231,76,60,0.22)",
                         showlegend=False, hoverinfo="skip"), row=4, col=1)
fig.add_trace(go.Scatter(x=x_rsi, y=[rsi_os] * len(rs), mode="lines", line=dict(width=0),
                         showlegend=False, hoverinfo="skip"), row=4, col=1)
fig.add_trace(go.Scatter(x=x_rsi, y=np.minimum(rs, rsi_os), mode="lines", line=dict(width=0),
                         fill="tonexty", fillcolor="rgba(39,174,96,0.22)",
                         showlegend=False, hoverinfo="skip"), row=4, col=1)
fig.add_trace(go.Scatter(x=[X_LO, X_HI], y=[rsi_ob, rsi_ob], mode="lines", name="Overbought (70)",
                         line=dict(color="rgba(230,40,40,0.85)", width=px(3), dash=dash(11, 5)),
                         legend="legend4", legendgroup="r2", legendrank=2, hoverinfo="skip"), row=4, col=1)
fig.add_trace(go.Scatter(x=[X_LO, X_HI], y=[rsi_os, rsi_os], mode="lines", name="Oversold (30)",
                         line=dict(color="rgba(20,140,20,0.85)", width=px(3.4), dash=dash(11, 5)),
                         legend="legend4", legendgroup="r3", legendrank=3, hoverinfo="skip"), row=4, col=1)
fig.add_trace(go.Scatter(x=x_rsi, y=rsi, mode="lines", name="RSI(14)",
                         line=dict(color="#ff7f0e", width=px(4.2)),
                         legend="legend4", legendgroup="r1", legendrank=1), row=4, col=1)

fig.add_shape(type="line", xref="paper", x0=0, x1=1, yref="y2", y0=0, y1=0,
              line=dict(color="rgba(120,120,120,0.85)", width=px(2.2), dash=dash(8, 4)), layer="above")
fig.add_shape(type="line", xref="paper", x0=0, x1=1, yref="y4", y0=rsi_mid, y1=rsi_mid,
              line=dict(color="rgba(120,120,120,0.8)", width=px(2), dash=dash(2, 3)), layer="above")

# ---- axes styling
GRID = "#d6d6d6"
GRID_MINOR = "#e6e6e6"
TICKFONT = dict(family=FONT, size=px(28), color="black")
axis_common = dict(showline=True, linecolor="black", linewidth=px(2.2), mirror=True,
                   ticks="outside", ticklen=px(10), tickwidth=px(2.2), tickcolor="black",
                   showgrid=True, gridcolor=GRID, gridwidth=px(2), zeroline=False,
                   tickfont=TICKFONT)

fig.update_xaxes(**axis_common)
fig.update_xaxes(range=[X_LO, X_HI], type="date", tick0="2025-07-22", dtick=14 * DAY,
                 tickformat="%b %d", tickangle=-45,
                 minor=dict(tick0="2025-07-22", dtick=3.5 * DAY, ticks="outside", ticklen=px(5.6),
                            tickwidth=px(1.6), tickcolor="black", showgrid=True,
                            gridcolor=GRID_MINOR, gridwidth=px(1.5), griddash="dot"))

ytitle = dict(font=dict(family=FONT, size=px(31), color="black"), standoff=px(20))


def minor_y(d):
    return dict(dtick=d, tick0=0, ticks="outside", ticklen=px(5.6), tickwidth=px(1.6),
                tickcolor="black", showgrid=True, gridcolor=GRID_MINOR,
                gridwidth=px(1.5), griddash="dot")


fig.update_yaxes(**axis_common)
fig.update_yaxes(row=1, col=1, range=[2.06, 16.97], tick0=0, dtick=2, minor=minor_y(0.5),
                 title=dict(text="Price (USD)", **ytitle))
fig.update_yaxes(row=2, col=1, range=[-1.73, 1.68], tickvals=[0], ticktext=["0"],
                 title=dict(text="MACD", **ytitle))
fig.update_yaxes(row=3, col=1, range=[-0.657, 1.568], tick0=0, dtick=0.5, tickformat=".1f",
                 minor=minor_y(0.1), title=dict(text="%B", **ytitle))
fig.update_yaxes(row=4, col=1, range=[0, 100], tick0=0, dtick=10, minor=minor_y(2),
                 title=dict(text="RSI(14)", **ytitle))

leg = dict(x=0.003, xanchor="left", yanchor="top", bgcolor="rgba(255,255,255,0.8)",
           bordercolor="#cccccc", borderwidth=px(2), itemwidth=max(30, px(44)),
           traceorder="normal", tracegroupgap=px(5),
           font=dict(family=FONT, size=px(24.5), color="black"))
fig.update_layout(
    width=W, height=H,
    margin=dict(l=px(162), r=px(28), t=px(42), b=px(135)),
    paper_bgcolor="white", plot_bgcolor="white",
    font=dict(family=FONT, color="black"),
    barmode="overlay", bargap=0,
    title=dict(text="<b>" + title + "</b>", x=0.5, xanchor="center",
               y=1 - 43 / 4322, yanchor="middle", yref="container",
               font=dict(family=FONT, size=px(49), color="black")),
    legend={**leg, "y": 0.9966},
    legend2={**leg, "y": 0.5597},
    legend3={**leg, "y": 0.2924},
    legend4={**leg, "y": 0.138},
)

fig.write_html("out.html", config={"displayModeBar": False},
               post_script="document.body.style.margin='0';document.body.style.overflow='hidden';")
